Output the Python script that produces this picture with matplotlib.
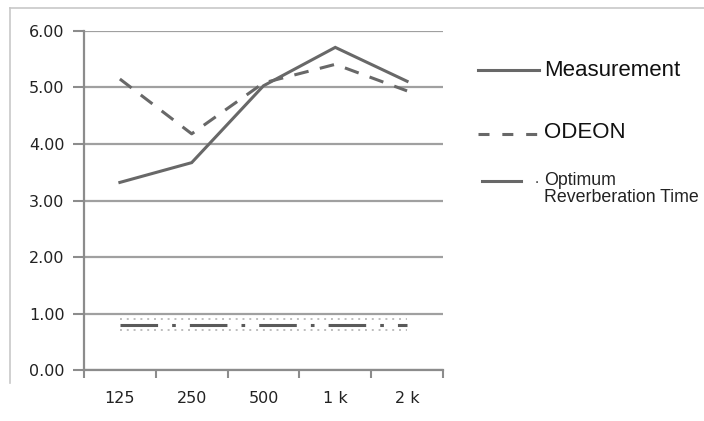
import matplotlib.pyplot as plt
from matplotlib.lines import Line2D

bands = ['125', '250', '500', '1 k', '2 k']
measurement = [3.32, 3.67, 5.03, 5.71, 5.11]
odeon = [5.15, 4.18, 5.08, 5.41, 4.94]
optimum = [0.80, 0.80, 0.80, 0.80, 0.80]

line_col = '#686868'
axis_col = '#8c8c8c'
grid_col = '#a0a0a0'

fig = plt.figure(figsize=(7.04, 4.21), dpi=100)
ax = fig.add_axes([0.1193, 0.1211, 0.5099, 0.8053])
x = list(range(len(bands)))

ax.set_xlim(-0.5, len(bands) - 0.5)
ax.set_ylim(0, 6)
ax.set_yticks([0, 1, 2, 3, 4, 5, 6])
ax.set_yticklabels(['%.2f' % v for v in [0, 1, 2, 3, 4, 5, 6]])
ax.set_xticks(x)
ax.set_xticklabels(bands)
ax.set_xticks([i - 0.5 for i in range(len(bands) + 1)], minor=True)
ax.tick_params(axis='x', which='major', length=0, pad=15, labelsize=11.5, labelcolor='#222222')
ax.tick_params(axis='x', which='minor', length=6, width=1.5, color=axis_col)
ax.tick_params(axis='y', length=8, width=1.5, color=axis_col, pad=6, labelsize=11.5, labelcolor='#222222')
ax.grid(axis='y', color=grid_col, linewidth=1.6)
ax.set_axisbelow(True)
for s in ['top', 'right']:
    ax.spines[s].set_visible(False)
ax.spines['left'].set_color(axis_col)
ax.spines['bottom'].set_color(axis_col)
ax.spines['left'].set_linewidth(1.6)
ax.spines['bottom'].set_linewidth(1.6)

lw = 2.2
ax.plot(x, measurement, color=line_col, lw=lw, solid_joinstyle='miter')
ax.plot(x, odeon, color=line_col, lw=lw, linestyle=(0, (4.8, 3.8)))

# optimum: dotted band with long dash-dot line
for off in (-0.1, 0.1):
    ax.plot(x, [v + off for v in optimum], color='#bdbdbd', lw=1.4, linestyle=(0, (1, 2.5)))
ax.plot(x, optimum, color='#5a5a5a', lw=lw, linestyle=(0, (12.3, 4.6, 1.2, 4.6)))

# legend
leg_font = 'Liberation Sans'


def leg_line(x0, x1, y, style):
    fig.add_artist(Line2D([x0 / 704, x1 / 704], [1 - y / 421] * 2, color=line_col, lw=lw,
                          linestyle=style, transform=fig.transFigure))


leg_line(478, 539, 70, '-')
fig.text(544 / 704, 1 - 70 / 421, 'Measurement', fontsize=16, va='center', color='#111111',
         family=leg_font)
leg_line(478, 539, 134, (0, (3.6, 4.2)))
fig.text(544 / 704, 1 - 133 / 421, 'ODEON', fontsize=16, va='center', color='#111111',
         family=leg_font)
leg_line(482, 521, 181, '-')
fig.text(535 / 704, 1 - 186 / 421, '.', fontsize=11, va='bottom', color='#333333', family=leg_font)
fig.text(544 / 704, 1 - 189 / 421, 'Optimum\nReverberation Time', fontsize=12.8, va='center',
         color='#222222', linespacing=1.05, family=leg_font)

# outer border
fig.add_artist(Line2D([10 / 704, 10 / 704], [1 - 383 / 421, 1 - 8 / 421], color='#c8c8c8', lw=1.2,
                      transform=fig.transFigure))
fig.add_artist(Line2D([10 / 704, 1.0], [1 - 8 / 421] * 2, color='#c8c8c8', lw=1.2,
                      transform=fig.transFigure))

fig.savefig('out.png', dpi=100)
